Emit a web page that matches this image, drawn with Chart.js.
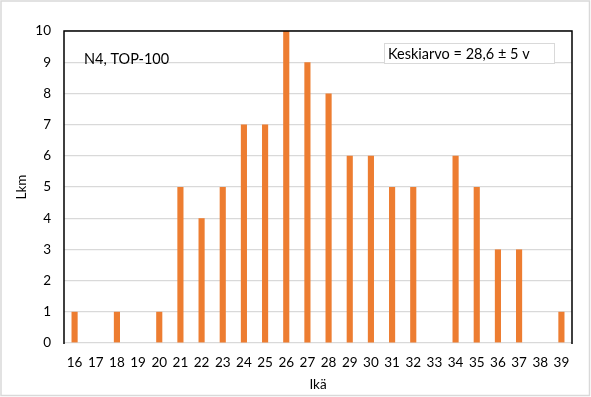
<!DOCTYPE html>
<html>
<head>
<meta charset="utf-8">
<script src="https://cdn.jsdelivr.net/npm/chart.js@4/dist/chart.umd.min.js"></script>
<style>
  html, body { margin: 0; padding: 0; background: #fff; }
  #wrap { width: 591px; height: 397px; }
</style>
</head>
<body>
<div id="wrap"><canvas id="g-ika" width="591" height="397"></canvas></div>
<script>
var ika = ['16', '17', '18', '19', '20', '21', '22', '23', '24', '25', '26', '27',
           '28', '29', '30', '31', '32', '33', '34', '35', '36', '37', '38', '39'];
var lkm = [1, 0, 1, 0, 1, 5, 4, 5, 7, 7, 10, 9, 8, 6, 6, 5, 5, 0, 6, 5, 3, 3, 0, 1];
var otsikko = 'N4, TOP-100';
var keskiarvo = 'Keskiarvo = 28,6 \u00b1 5 v';

var fontti = 'Lato, "Open Sans", sans-serif';

// kehykset ja tekstit
var kehys = {
  id: 'kehys',
  beforeDraw: function (chart) {
    var c = chart.ctx;
    c.save();
    c.fillStyle = '#fff';
    c.fillRect(0, 0, chart.width, chart.height);
    c.strokeStyle = '#d9d9d9';
    c.lineWidth = 1.5;
    c.strokeRect(1, 1, 588.5, 394.5);
    c.restore();
  },
  afterDraw: function (chart) {
    var c = chart.ctx, a = chart.chartArea;
    c.save();
    c.strokeStyle = '#000';
    c.lineWidth = 1.5;
    c.beginPath();
    c.moveTo(a.left, a.bottom + 1);
    c.lineTo(a.left, a.top);
    c.lineTo(a.right, a.top);
    c.lineTo(a.right, a.bottom + 1);
    c.stroke();

    c.font = '14.5px ' + fontti;
    c.fillStyle = '#000';
    c.textBaseline = 'middle';
    c.fillText(otsikko, 84, 59);

    c.fillStyle = '#fff';
    c.fillRect(384, 43, 171, 21);
    c.strokeStyle = '#d9d9d9';
    c.lineWidth = 1;
    c.strokeRect(384.5, 43.5, 170, 20);
    c.fillStyle = '#000';
    c.fillText(keskiarvo, 388, 54.5);
    c.restore();
  }
};

var idhtml = document.getElementById('g-ika').getContext('2d');
var g_ika = new Chart(idhtml, {
  type: 'bar',
  data: {
    labels: ika,
    datasets: [{
      label: 'Lkm',
      data: lkm,
      backgroundColor: '#ED7D31',
      borderWidth: 0,
      barPercentage: 0.29,
      categoryPercentage: 1
    }]
  },
  options: {
    responsive: false,
    animation: false,
    layout: { padding: { top: 31, right: 19, bottom: 3, left: 8 } },
    plugins: { legend: { display: false }, tooltip: { enabled: false } },
    scales: {
      x: {
        afterFit: function (s) { s.height = 51; },
        grid: { display: false, drawTicks: false },
        border: { display: false },
        ticks: { color: '#000', font: { family: fontti, size: 13.5 }, padding: 12, maxRotation: 0, autoSkip: false },
        title: { display: true, text: 'Ikä', color: '#000', font: { family: fontti, size: 13.5 }, padding: { top: 0, bottom: 1 } }
      },
      y: {
        min: 0,
        max: 10,
        afterFit: function (s) { s.width = 56; },
        grid: { color: '#d9d9d9', lineWidth: 1.2, drawTicks: false },
        border: { display: false },
        ticks: { stepSize: 1, color: '#000', font: { family: fontti, size: 13.5 }, padding: 13 },
        title: { display: true, text: 'Lkm', color: '#000', font: { family: fontti, size: 13.5 }, padding: { top: 6, bottom: 0 } }
      }
    }
  },
  plugins: [kehys]
});
</script>
</body>
</html>
